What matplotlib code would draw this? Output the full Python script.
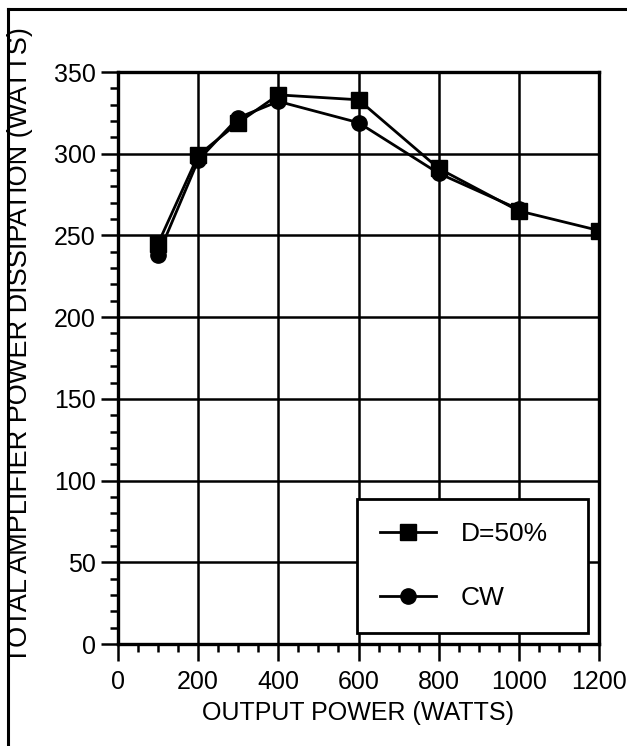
import matplotlib
matplotlib.use("Agg")
import matplotlib.pyplot as plt
from matplotlib.lines import Line2D
from matplotlib.ticker import MultipleLocator

plt.rcParams['font.family'] = ['Liberation Sans', 'DejaVu Sans']

# Data
x_d50 = [100, 200, 300, 400, 600, 800, 1000, 1200]
y_d50 = [245, 299, 319, 336, 333, 291, 265, 253]
x_cw = [100, 200, 300, 400, 600, 800, 1000]
y_cw = [238, 296, 322, 332, 319, 288, 266]
label_d50 = "D=50%"
label_cw = "CW"
xlabel = "OUTPUT POWER (WATTS)"
ylabel = "TOTAL AMPLIFIER POWER DISSIPATION (WATTS)"

W, H = 627, 746
fig = plt.figure(figsize=(W / 100, H / 100), dpi=100)
ax = fig.add_axes([118 / W, 1 - 644 / H, (599 - 118) / W, (644 - 72) / H])

ax.plot(x_d50, y_d50, color='black', lw=2.0, marker='s', ms=11, label=label_d50, zorder=4)
ax.plot(x_cw, y_cw, color='black', lw=2.0, marker='o', ms=11, label=label_cw, zorder=4)

ax.set_xlim(0, 1200)
ax.set_ylim(0, 350)
ax.xaxis.set_major_locator(MultipleLocator(200))
ax.xaxis.set_minor_locator(MultipleLocator(50))
ax.yaxis.set_major_locator(MultipleLocator(50))
ax.yaxis.set_minor_locator(MultipleLocator(10))
ax.grid(True, which='major', color='black', lw=1.8)
ax.set_axisbelow(True)
for s in ax.spines.values():
    s.set_linewidth(2.4)
ax.tick_params(which='major', direction='out', length=12, width=1.8, labelsize=18)
ax.tick_params(axis='x', which='major', pad=7)
ax.tick_params(axis='y', which='major', pad=4)
ax.tick_params(which='minor', direction='out', length=6, width=1.8)

ax.set_xlabel(xlabel, fontsize=18, labelpad=5)
ax.set_ylabel(ylabel, fontsize=19.5)
ax.yaxis.set_label_coords(-(118 - 33) / 481, 0.5 - ((345 - 358) / 572))

x0 = (357 - 118) / 481
y0 = (644 - 633) / 572
wl = (588 - 357) / 481
leg = ax.legend(loc='lower left', bbox_to_anchor=(x0, y0, wl, 0.2), mode='expand',
                borderaxespad=0, fontsize=19, handlelength=2.1, handletextpad=0.95,
                labelspacing=1.5, borderpad=0.88, fancybox=False, framealpha=1,
                edgecolor='black')
leg.get_frame().set_linewidth(2.0)

fig.add_artist(Line2D([8 / W, 1], [1 - 9 / H, 1 - 9 / H], color='black', lw=2.2,
                      transform=fig.transFigure))
fig.add_artist(Line2D([8 / W, 8 / W], [0, 1 - 9 / H], color='black', lw=2.2,
                      transform=fig.transFigure))

fig.savefig("out.png", dpi=100)
